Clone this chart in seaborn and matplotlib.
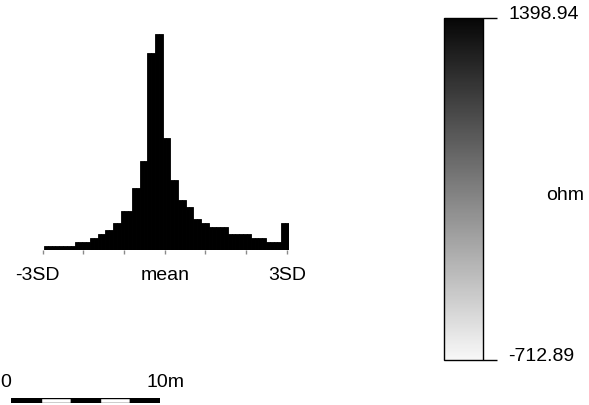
import matplotlib
matplotlib.use("Agg")
import matplotlib.pyplot as plt
import matplotlib.transforms as mtransforms
from matplotlib.colors import LinearSegmentedColormap, Normalize
from matplotlib.cm import ScalarMappable
import numpy as np
import pandas as pd
import seaborn as sns

# ---------------- data ----------------
sd_ticks = [-3, -2, -1, 0, 1, 2, 3]
sd_labels = ["-3SD", "", "", "mean", "", "", "3SD"]

bin_start = -2.968      # in SD units
bin_width = 0.0941      # in SD units
bin_counts = [4, 4, 4, 4, 4, 4, 4, 4,
              8, 8, 8, 8,
              12, 12, 16, 16, 20, 20, 27, 27,
              39, 39, 39, 62, 62, 89, 89,
              197, 197, 216, 216,
              112, 112, 70, 70, 50, 50, 43, 43, 31, 31, 27, 27,
              23, 23, 23, 23, 23,
              16, 16, 16, 16, 16, 16,
              12, 12, 12, 12,
              8, 8, 8, 8,
              27, 27]

cb_min = -712.89
cb_max = 1398.94
cb_labels = ["-712.89", "1398.94"]
cb_unit = "ohm"

scale_marks = [0, 2, 4, 6, 8, 10]
scale_colors = ["black", "white", "black", "white", "black"]
scale_labels = ["0", "10m"]

# ---------------- figure ----------------
sns.set_theme(style="white")
plt.rcParams["font.family"] = ["Liberation Sans", "DejaVu Sans"]

W, H = 589, 406
fig = plt.figure(figsize=(W / 100, H / 100), dpi=100)
fig.patch.set_facecolor("white")


def fx(px):
    return px / W


def fy(py):
    return 1 - py / H


FS = 14

# histogram
n_bins = len(bin_counts)
bin_end = bin_start + bin_width * n_bins
centers = bin_start + bin_width * (np.arange(n_bins) + 0.5)
hist_df = pd.DataFrame({"sd": centers, "count": bin_counts})
ax = fig.add_axes([fx(42.7), fy(251), (289.2 - 42.7) / W, 216 / H])
sns.histplot(data=hist_df, x="sd", weights="count", bins=n_bins,
             binrange=(bin_start, bin_end), color="black",
             alpha=1, edgecolor="black", linewidth=0.6, ax=ax)
ax.set_xlim(-3, 3.06)
ax.set_ylim(0, 216)
ax.set_xticks(sd_ticks)
ax.set_xticklabels(sd_labels)
ax.set_yticks([])
ax.set_xlabel("")
ax.set_ylabel("")
ax.tick_params(axis="x", bottom=True, direction="out", length=2.9, width=1,
               color="#8a8a8a", pad=8.4, labelsize=FS, labelcolor="black")
for s in ax.spines.values():
    s.set_visible(False)
ax.patch.set_alpha(0)
lab0 = ax.get_xticklabels()[0]
lab0.set_transform(lab0.get_transform() +
                   mtransforms.ScaledTranslation(-5 / 100, 0, fig.dpi_scale_trans))

# colour bar
cax = fig.add_axes([fx(444.3), fy(361), 38.4 / W, 342 / H])
cmap = LinearSegmentedColormap.from_list("ohm", ["#f8f8f8", "#060606"])
norm = Normalize(vmin=cb_min, vmax=cb_max)
cb = fig.colorbar(ScalarMappable(norm=norm, cmap=cmap), cax=cax,
                  orientation="vertical")
cb.set_ticks([cb_min, cb_max])
cb.set_ticklabels(["", ""])
cb.minorticks_off()
cax.tick_params(axis="y", right=True, length=10.1, width=1, color="black")
cb.outline.set_linewidth(1)
cb.outline.set_edgecolor("black")
trans = mtransforms.blended_transform_factory(fig.transFigure, cax.transData)
for v, t in zip([cb_min, cb_max], cb_labels):
    cax.text(fx(508), v, t, transform=trans, ha="left", va="baseline",
             fontsize=FS, color="black")
fig.text(fx(546), fy(200), cb_unit, ha="left", va="baseline",
         fontsize=FS, color="black")

# scale bar
sb = fig.add_axes([fx(11), fy(403.5), 149 / W, 5 / H])
sb.barh([0] * (len(scale_marks) - 1), width=np.diff(scale_marks),
        left=scale_marks[:-1], height=1, color=scale_colors,
        edgecolor="black", linewidth=1)
sb.set_xlim(scale_marks[0], scale_marks[-1])
sb.set_ylim(-0.5, 0.5)
sb.axis("off")
fig.text(fx(0), fy(386.7), scale_labels[0], ha="left", va="baseline",
         fontsize=FS, color="black")
fig.text(fx(146.5), fy(386.7), scale_labels[1], ha="left", va="baseline",
         fontsize=FS, color="black")

fig.savefig("out.png", dpi=100, facecolor="white")
